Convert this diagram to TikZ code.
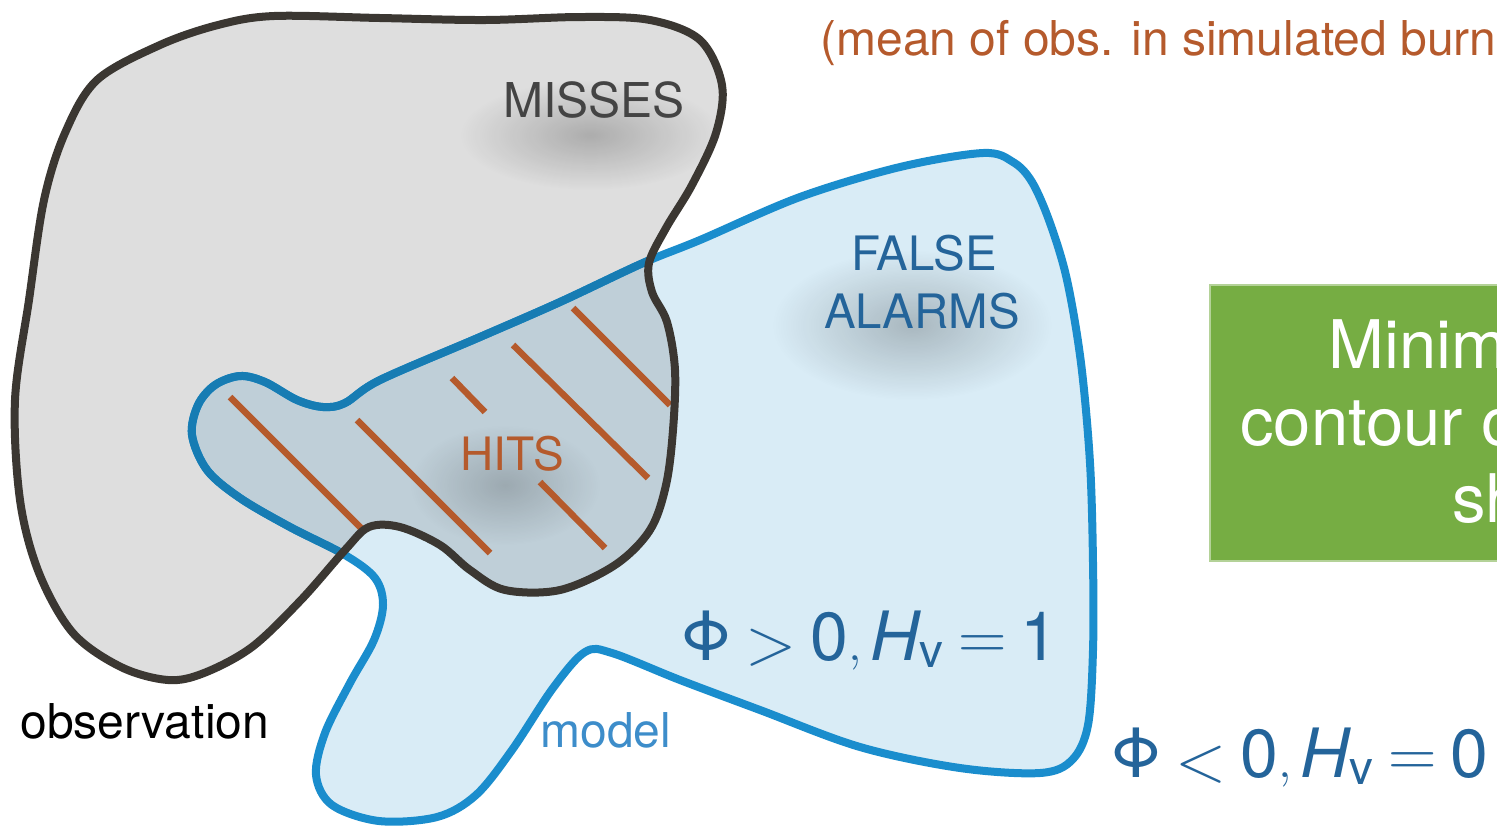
\documentclass[tikz,border=0pt]{standalone}
\usepackage{amsmath}
\usepackage{graphicx}
\usepackage{fontspec}
\setmainfont{TeX Gyre Heros}
\setsansfont{TeX Gyre Heros}
\usetikzlibrary{fadings}
\tikzfading[name=fuzzy, inner color=transparent!0, outer color=transparent!100]
\definecolor{obsfill}{HTML}{DEDEDE}
\definecolor{obsline}{HTML}{3B3732}
\definecolor{modline}{HTML}{1A8DCD}
\definecolor{modlinedark}{HTML}{177CB3}
\definecolor{modfill}{HTML}{D9ECF6}
\definecolor{hitfill}{HTML}{BFCFD8}
\definecolor{hatchc}{HTML}{B55A2C}
\definecolor{labblue}{HTML}{24649A}
\definecolor{modeltext}{HTML}{3D8DCA}
\definecolor{missgray}{HTML}{444444}
\definecolor{boxgreen}{HTML}{76AD43}
\newcommand{\bigrel}[1]{\mathrel{\vcenter{\hbox{\scalebox{1.35}{$#1$}}}}}
\newcommand{\phiformula}[2]{$\text{Φ} \bigrel{#1} \text{0}, \text{\itshape H}_{\text{v}} \bigrel{=} \text{#2}$}
\def\obspath{plot[smooth cycle, tension=0.55] coordinates {(274,16) (380,18) (485,20) (580,17) (650,20) (700,40) (722,85) (716,133) (692,185) (666,228) (649,263) (652,292) (667,322) (675,370) (673,430) (666,485) (650,530) (615,565) (560,590) (505,590) (470,570) (440,545) (400,527) (369,527) (345,550) (301,600) (252,647) (204,673) (168,680) (121,667) (73,633) (39,573) (20,500) (15,400) (29,300) (44,200) (65,133) (97,80) (160,45) (218,25)}}
\def\modpath{plot[smooth cycle, tension=0.55] coordinates {(643,263) (700,240) (800,197) (900,167) (983,153) (1013,162) (1032,182) (1050,223) (1067,280) (1081,363) (1090,463) (1093,563) (1093,650) (1088,725) (1072,760) (1040,773) (960,768) (860,747) (760,710) (680,680) (612,653) (585,652) (553,688) (512,750) (476,795) (437,817) (379,821) (332,805) (316,775) (325,733) (350,683) (374,640) (383,605) (375,578) (345,555) (290,527) (240,498) (207,470) (192,435) (198,405) (215,385) (240,376) (265,382) (297,400) (323,407) (345,403) (380,380) (480,337) (560,302)}}
\tikzset{
  lab/.style={inner sep=0pt, font=\fontsize{24}{29}\selectfont},
  hatchline/.style={draw=hatchc, line width=3.2pt},
  shadowblob/.style={fill=black, path fading=fuzzy}
}
\begin{document}
\begin{tikzpicture}[x=0.5pt,y=-0.5pt]
\useasboundingbox (0,0) rectangle (1497,826);
% fills
\fill[obsfill] \obspath;
\fill[modfill] \modpath;
\begin{scope}
  \clip \obspath;
  \fill[hitfill] \modpath;
\end{scope}
% soft label shadows
\fill[shadowblob, opacity=0.22] (590,135) ellipse [x radius=130, y radius=55];
\fill[shadowblob, opacity=0.22] (912,325) ellipse [x radius=140, y radius=75];
\fill[shadowblob, opacity=0.18] (505,485) ellipse [x radius=95, y radius=60];
% model outline
\draw[modline, line width=4pt] \modpath;
\begin{scope}
  \clip \obspath;
  \draw[modlinedark, line width=4pt] \modpath;
\end{scope}
% hatching
\draw[hatchline] (230,397) -- (363,530);
\draw[hatchline] (357,420) -- (490,553);
\draw[hatchline] (452,378) -- (485,412);
\draw[hatchline] (513,345) -- (648,478);
\draw[hatchline] (573,308) -- (670,405);
\draw[hatchline] (540,482) -- (605,548);
% observation outline
\draw[obsline, line width=4pt] \obspath;
% labels
\node[lab, text=missgray, anchor=base west] (misses) at (503,117) {MISSES};
\node[lab, text=labblue, anchor=base, font=\fontsize{23.7}{29}\selectfont] (false) at (924,270) {FALSE};
\node[lab, text=labblue, anchor=base, font=\fontsize{23.7}{29}\selectfont] (alarms) at (922,328) {ALARMS};
\node[lab, text=hatchc, anchor=base, font=\fontsize{23}{29}\selectfont] (hits) at (512,470) {HITS};
\node[lab, text=black, anchor=base west] (obs) at (20,738) {observation};
\node[lab, text=modeltext, anchor=base west] (model) at (540,747) {model};
\node[lab, text=hatchc, anchor=base west] (mean) at (820,55) {(mean of obs. in simulated burned area)};
% formulas
\node[lab, text=labblue, anchor=base west, font=\fontsize{34}{40}\selectfont] (phipos) at (680,660) {\phiformula{>}{1}};
\node[lab, text=labblue, anchor=base west, font=\fontsize{34}{40}\selectfont] (phineg) at (1110,777) {\phiformula{<}{0}};
% green box
\node[draw=boxgreen!55!white, fill=boxgreen, line width=1pt, minimum width=160pt, minimum height=138pt, anchor=north west, inner sep=0pt] (goal) at (1209,284) {};
\node[lab, text=white, anchor=base west, font=\fontsize{33.5}{38}\selectfont] (l1) at (1328,368) {Minimize the};
\node[lab, text=white, anchor=base west, font=\fontsize{33.5}{38}\selectfont] (l2) at (1240,445) {contour of the};
\node[lab, text=white, anchor=base west, font=\fontsize{33.5}{38}\selectfont] (l3) at (1452,522) {shape};
\end{tikzpicture}
\end{document}
